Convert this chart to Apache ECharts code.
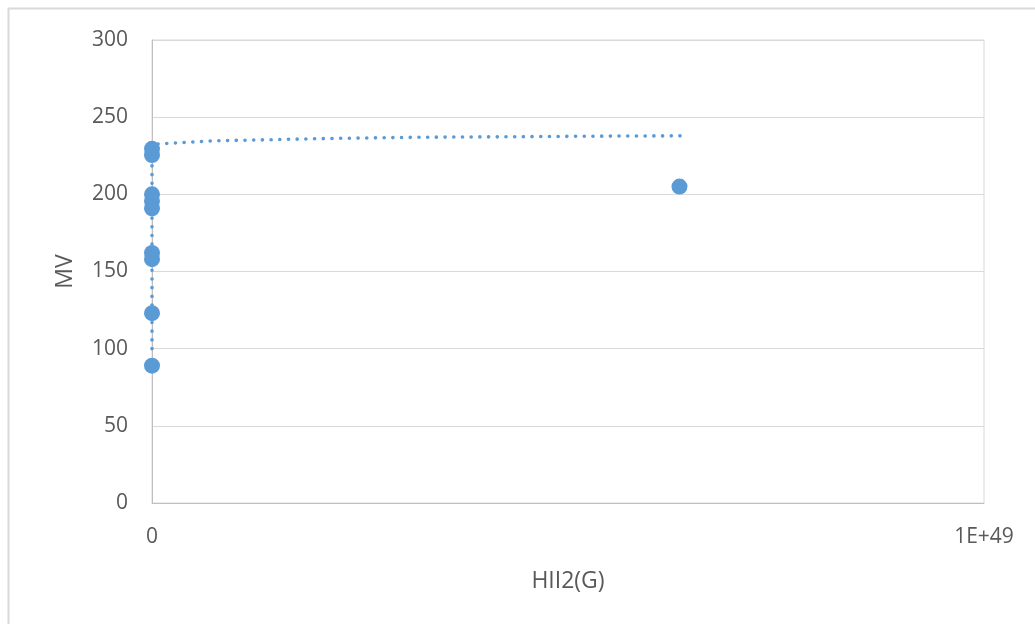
<!DOCTYPE html>
<html>
<head>
<meta charset="utf-8">
<script src="https://cdn.jsdelivr.net/npm/echarts@6/dist/echarts.min.js"></script>
<style>
html,body{margin:0;padding:0;background:#fff;}
#chart{width:1035px;height:624px;}
</style>
</head>
<body>
<div id="chart"></div>
<script>
// Observed points (HII2(G), MV)
const pointX = [1e30, 1e29, 1e20, 1e18, 1e16, 1e8, 1e6, 1e2, 1, 6.34e48];
const pointY = [229.5, 225.5, 200, 195.6, 191, 162, 158, 123, 89, 205];
// Trendline
const trendX = [0, 0, 6e46, 7e47, 2.14e48, 3.22e48, 4.3e48, 5.67e48, 6.36e48];
const trendY = [100, 231, 232.6, 234.6, 236.2, 237.0, 237.3, 237.8, 237.9];
// Axis settings
const yTicks = [0, 50, 100, 150, 200, 250, 300];
const xMin = 0, xMax = 1e49;

const FONT = '"Open Sans", "Noto Sans", sans-serif';
const chart = echarts.init(document.getElementById('chart'), null, {renderer: 'canvas'});
chart.setOption({
  animation: false,
  backgroundColor: '#fff',
  graphic: [{
    type: 'rect', shape: {x: 8.5, y: 8.5, width: 1200, height: 800},
    style: {fill: 'none', stroke: '#D9D9D9', lineWidth: 2}, silent: true, z: -1
  }],
  grid: {left: 152, right: 51, top: 40, bottom: 121, show: true, borderColor: '#D9D9D9', borderWidth: 1},
  xAxis: {
    type: 'value', min: xMin, max: xMax, interval: xMax - xMin,
    name: 'HII2(G)', nameLocation: 'middle', nameGap: 67,
    nameTextStyle: {color: '#595959', fontSize: 23, fontFamily: FONT},
    axisLine: {show: true, lineStyle: {color: '#BFBFBF', width: 1}},
    axisTick: {show: false},
    splitLine: {show: false},
    axisLabel: {color: '#595959', fontSize: 21, fontFamily: FONT, margin: 24,
      formatter: v => v === 0 ? '0' : v.toExponential(0).toUpperCase()}
  },
  yAxis: {
    type: 'value', min: yTicks[0], max: yTicks[yTicks.length - 1], interval: yTicks[1] - yTicks[0],
    name: 'MV', nameLocation: 'middle', nameGap: 75, nameRotate: 90,
    nameTextStyle: {color: '#595959', fontSize: 23, fontFamily: FONT},
    axisLine: {show: true, lineStyle: {color: '#BFBFBF', width: 1}},
    axisTick: {show: false},
    splitLine: {show: true, lineStyle: {color: '#D9D9D9', width: 1}},
    axisLabel: {color: '#595959', fontSize: 21, fontFamily: FONT, margin: 24}
  },
  series: [
    {
      type: 'line', data: trendX.map((x, i) => [x, trendY[i]]),
      showSymbol: false, symbol: 'none', smooth: false,
      lineStyle: {color: '#5B9BD5', width: 3.6, type: [0.1, 8.6], cap: 'round'},
      z: 2
    },
    {
      type: 'scatter', data: pointX.map((x, i) => [x, pointY[i]]),
      symbol: 'circle', symbolSize: 16,
      itemStyle: {color: '#5B9BD5', opacity: 1},
      z: 3
    }
  ]
});
</script>
</body>
</html>
